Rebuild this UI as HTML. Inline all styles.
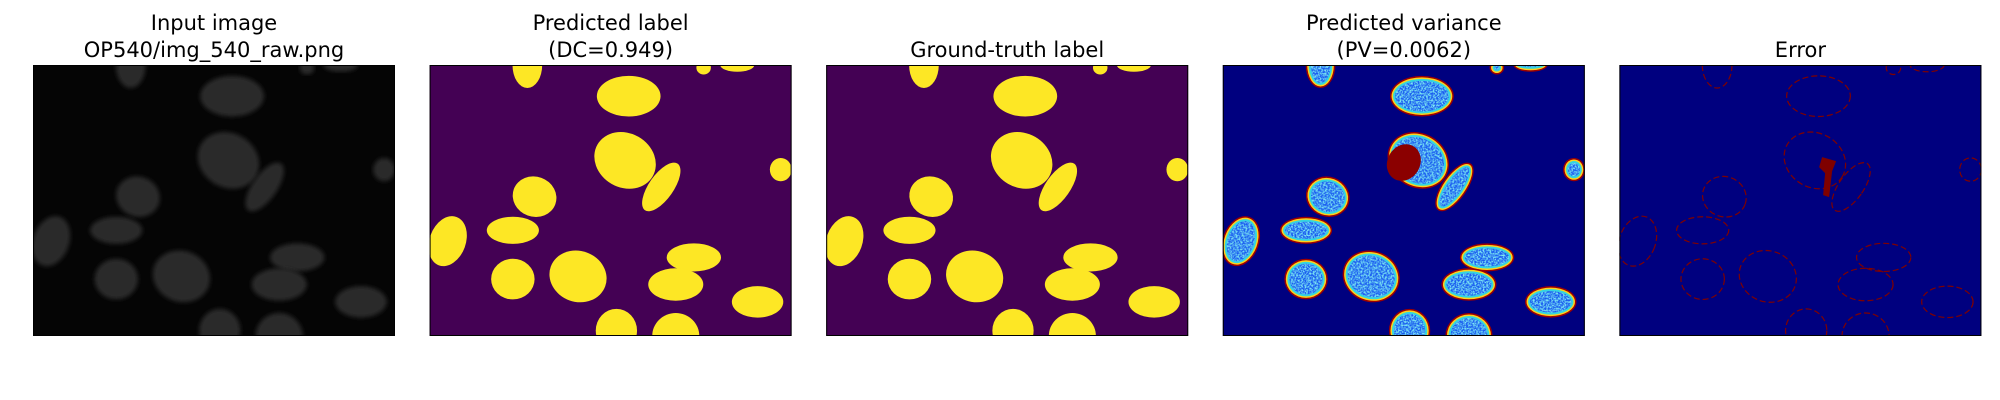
<!DOCTYPE html>
<html><head><meta charset="utf-8">
<style>
html,body{margin:0;padding:0;background:#fff;}
svg{display:block;}
text{font-family:"DejaVu Sans","Liberation Sans",sans-serif;font-size:21px;fill:#000;text-anchor:middle;}
</style></head>
<body>
<svg id="fig" width="2000" height="400" viewBox="0 0 2000 400" xmlns="http://www.w3.org/2000/svg">
<defs>
<filter id="soft"><feGaussianBlur stdDeviation="2"/></filter>
<filter id="noise" x="0" y="0" width="100%" height="100%">
<feTurbulence type="fractalNoise" baseFrequency="0.6" numOctaves="2" seed="3"/>
<feColorMatrix type="matrix" values="0 0 0 0 0.2  0 0 0 0 0.8  0 0 0 0 0.9  0 0 0 3 -1.1"/>
<feComposite in2="SourceGraphic" operator="in"/>
</filter>
</defs>
</svg>
<script>
// blob data (normalized panel coords): centre x, centre y, radius x, radius y, rotation
const blobCx = [0.27,0.55,0.757,0.85,0.54,0.64,0.97,0.29,0.05,0.23,0.23,0.41,0.73,0.68,0.906,0.516,0.68];
const blobCy = [0.0,0.115,0.01,0.0,0.352,0.45,0.386,0.486,0.65,0.61,0.79,0.78,0.71,0.81,0.874,0.98,1.0];
const blobRx = [0.041,0.088,0.02,0.047,0.088,0.034,0.03,0.061,0.05,0.072,0.06,0.08,0.075,0.076,0.071,0.057,0.065];
const blobRy = [0.085,0.075,0.025,0.025,0.1,0.105,0.043,0.074,0.095,0.05,0.075,0.094,0.052,0.06,0.058,0.08,0.085];
const blobRot = [0,0,0,0,30,35,0,20,20,0,0,20,0,0,0,0,0];
const titles1 = ["Input image","Predicted label","Ground-truth label","Predicted variance","Error"];
const titles2 = ["OP540/img_540_raw.png","(DC=0.949)","","(PV=0.0062)",""];
const panelNames = ["input-image","predicted-label","ground-truth-label","predicted-variance","error-map"];

const NS="http://www.w3.org/2000/svg";
const svg=document.getElementById('fig');
const X0=33, STEP=396.6, W=362, Y0=65, H=271;
function px(i,v){return X0+STEP*i+v*W;}
function py(v){return Y0+v*H;}
function mk(tag,attrs,parent){const e=document.createElementNS(NS,tag);for(const k in attrs)e.setAttribute(k,attrs[k]);parent.appendChild(e);return e;}

const bgs=["#050505","#440154","#440154","#00007f","#00007f"];
for(let p=0;p<5;p++){
  const g=mk('g',{},svg);
  
  
  const cid='clip'+p;
  const cp=mk('clipPath',{id:cid},g);
  mk('rect',{x:px(p,0),y:Y0,width:W,height:H},cp);
  const bg=mk('rect',{x:px(p,0),y:Y0,width:W,height:H,fill:bgs[p]},g);
  
  
  const inner=mk('g',{'clip-path':'url(#'+cid+')'},g);
  for(let b=0;b<blobCx.length;b++){
    const cx=px(p,blobCx[b]), cy=py(blobCy[b]), rx=blobRx[b]*W, ry=blobRy[b]*H;
    const tr='rotate('+blobRot[b]+' '+cx+' '+cy+')';
    let el;
    if(p===0){
      el=mk('ellipse',{cx,cy,rx,ry,transform:tr,fill:'#2a2a2a',filter:'url(#soft)'},inner);
    } else if(p===1||p===2){
      el=mk('ellipse',{cx,cy,rx,ry,transform:tr,fill:'#fde725'},inner);
    } else if(p===3){
      el=mk('g',{},inner);
      mk('ellipse',{cx,cy,rx,ry,transform:tr,fill:'#9e0000'},el);
      mk('ellipse',{cx,cy,rx:rx-1.5,ry:ry-1.5,transform:tr,fill:'#ffd21a'},el);
      mk('ellipse',{cx,cy,rx:rx-3,ry:ry-3,transform:tr,fill:'#33d6e0'},el);
      mk('ellipse',{cx,cy,rx:Math.max(rx-5,1),ry:Math.max(ry-5,1),transform:tr,fill:'#1a5cf0'},el);
      mk('ellipse',{cx,cy,rx:Math.max(rx-5,1),ry:Math.max(ry-5,1),transform:tr,fill:'#fff',filter:'url(#noise)'},el);
    } else {
      el=mk('ellipse',{cx,cy,rx,ry,transform:tr,fill:'none',stroke:'#7f0000','stroke-width':1.2,'stroke-dasharray':'6 3'},inner);
    }
    
    
  }
  if(p===3){
    const m=mk('ellipse',{cx:px(p,0.50),cy:py(0.36),rx:W*0.045,ry:H*0.07,fill:'#8b0000',transform:'rotate(30 '+px(p,0.5)+' '+py(0.36)+')'},inner);
    
    
  }
  if(p===4){
    const m=mk('path',{d:'M'+px(p,0.56)+' '+py(0.34)+' l14 4 l-4 10 l-3 26 l-6 -2 l2 -22 l-6 -6 z',fill:'#7f0000'},inner);
    
    
  }
  const fr=mk('rect',{x:px(p,0)+0.5,y:Y0+0.5,width:W-1,height:H-1,fill:'none',stroke:'#000','stroke-width':1},g);
  
  
  const tx=px(p,0.5);
  if(titles2[p]){
    const t1=mk('text',{x:tx,y:30},g); t1.textContent=titles1[p];
    
    
    const t2=mk('text',{x:tx,y:57},g); t2.textContent=titles2[p];
    
    
  } else {
    const t1=mk('text',{x:tx,y:57},g); t1.textContent=titles1[p];
    
    
  }
}
</script>
</body></html>
